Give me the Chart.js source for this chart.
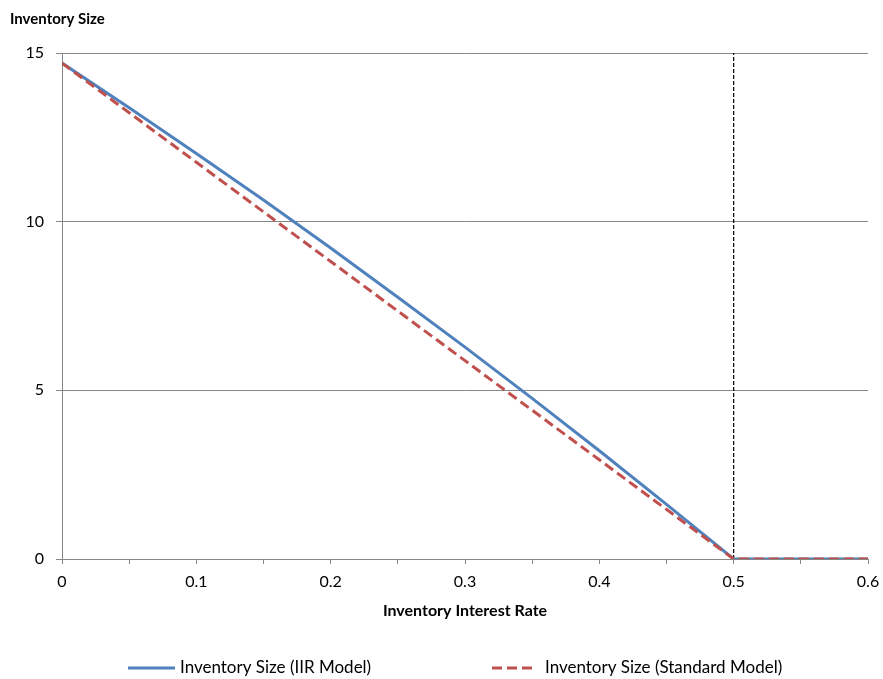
<!DOCTYPE html>
<html>
<head>
<meta charset="utf-8">
<script src="https://cdn.jsdelivr.net/npm/chart.js@4.4.1/dist/chart.umd.min.js"></script>
<style>
  html, body { margin: 0; padding: 0; background: #fff; }
  #wrap { width: 883px; height: 679px; }
</style>
</head>
<body>
<div id="wrap"><canvas id="inventoryChart" width="883" height="679"></canvas></div>
<script>
// interest rate (x) values
var rates = [0, 0.05, 0.1, 0.15, 0.2, 0.25, 0.3, 0.35, 0.4, 0.45, 0.5, 0.55, 0.6];
// inventory size, IIR model
var iirSizes = [14.7, 13.38, 12.02, 10.64, 9.22, 7.76, 6.28, 4.76, 3.21, 1.62, 0, 0, 0];
// inventory size, standard model
var standardSizes = [14.7, 13.23, 11.76, 10.29, 8.82, 7.35, 5.88, 4.41, 2.94, 1.47, 0, 0, 0];
// vertical marker at the cut-off rate
var cutoffX = [0.5, 0.5];
var cutoffY = [0, 15];

var seriesNames = ['Inventory Size (IIR Model)', 'Inventory Size (Standard Model)'];

function toPoints(xs, ys) {
  return xs.map(function (x, i) {
    return { x: x, y: ys[i] };
  });
}

var axisGray = '#868686';
var fontFamily = 'Lato, "Open Sans", sans-serif';

// legend drawn by hand so the two entries can sit far apart like the original
var seriesKey = {
  id: 'seriesKey',
  afterDraw: function (chart) {
    var ctx = chart.ctx;
    var slots = [
      { index: 0, start: 128, length: 47, textX: 180 },
      { index: 1, start: 492, length: 41, textX: 545 },
    ];
    var y = 668;
    ctx.save();
    slots.forEach(function (slot) {
      var ds = chart.data.datasets[slot.index];
      ctx.beginPath();
      ctx.strokeStyle = ds.borderColor;
      ctx.lineWidth = ds.borderWidth;
      ctx.setLineDash(ds.borderDash || []);
      ctx.moveTo(slot.start, y);
      ctx.lineTo(slot.start + slot.length, y);
      ctx.stroke();
      ctx.setLineDash([]);
      ctx.fillStyle = '#000';
      ctx.font = '17px ' + fontFamily;
      ctx.textBaseline = 'middle';
      ctx.textAlign = 'left';
      ctx.fillText(ds.label, slot.textX, y);
    });
    ctx.restore();
  },
};

var ctx = document.getElementById('inventoryChart').getContext('2d');
new Chart(ctx, {
  type: 'line',
  data: {
    datasets: [
      {
        label: seriesNames[0],
        data: toPoints(rates, iirSizes),
        borderColor: '#4F81BD',
        backgroundColor: '#4F81BD',
        borderWidth: 3,
        pointRadius: 0,
        order: 1,
      },
      {
        label: seriesNames[1],
        data: toPoints(rates, standardSizes),
        borderColor: '#C0504D',
        backgroundColor: '#C0504D',
        borderWidth: 3,
        borderDash: [10, 5],
        pointRadius: 0,
        order: 0,
      },
      {
        label: 'cutoff',
        data: toPoints(cutoffX, cutoffY),
        borderColor: '#000000',
        borderWidth: 1.2,
        borderDash: [4, 2],
        pointRadius: 0,
        order: 2,
      },
    ],
  },
  plugins: [seriesKey],
  options: {
    responsive: false,
    animation: false,
    layout: {
      padding: { left: 10, right: 15, top: 0, bottom: 59 },
    },
    plugins: {
      title: {
        display: true,
        text: 'Inventory Size',
        align: 'start',
        color: '#000',
        font: { family: fontFamily, size: 15, weight: 'bold' },
        padding: { top: 10, bottom: 25 },
      },
      legend: { display: false },
      tooltip: { enabled: false },
    },
    scales: {
      x: {
        type: 'linear',
        min: 0,
        max: 0.6,
        ticks: {
          stepSize: 0.05,
          autoSkip: false,
          maxRotation: 0,
          color: '#000',
          padding: 8,
          font: { family: fontFamily, size: 16 },
          callback: function (v) {
            var n = Math.round(v * 100);
            return n % 10 === 0 ? String(n / 100) : '';
          },
        },
        grid: {
          drawOnChartArea: false,
          drawTicks: true,
          tickLength: 5,
          color: axisGray,
        },
        border: { color: axisGray, width: 1 },
        title: {
          display: true,
          text: 'Inventory Interest Rate',
          color: '#000',
          font: { family: fontFamily, size: 16, weight: 'bold' },
          padding: { top: 9, bottom: 0 },
        },
        afterFit: function (scale) {
          scale.height = 61;
          scale.paddingRight = 4;
        },
      },
      y: {
        min: 0,
        max: 15,
        ticks: {
          stepSize: 5,
          color: '#000',
          font: { family: fontFamily, size: 16 },
          padding: 12,
        },
        grid: {
          color: axisGray,
          drawTicks: true,
          tickLength: 6,
        },
        border: { color: axisGray, width: 1 },
        afterFit: function (scale) {
          scale.width = 52;
        },
      },
    },
  },
});
</script>
</body>
</html>
